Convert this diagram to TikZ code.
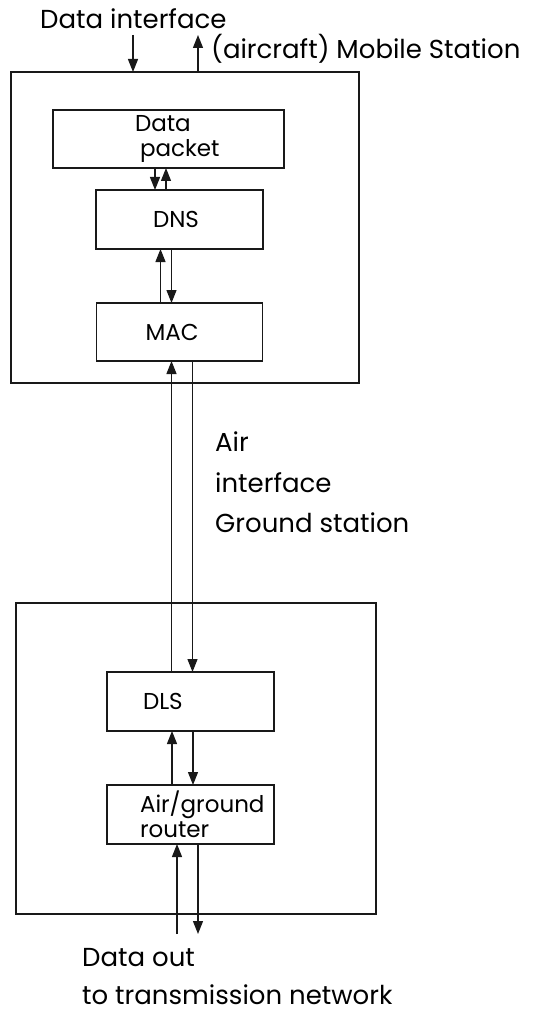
\documentclass[tikz,border=0pt]{standalone}
\usepackage{fontspec}
\setmainfont{Poppins}
\usetikzlibrary{arrows.meta, positioning}

\begin{document}
\begin{tikzpicture}[x=1pt, y=-1pt, font=\fontsize{23}{25}\selectfont,
    station/.style={rectangle, draw=black!90, line width=1.4pt, inner sep=0pt, outer sep=0pt},
    block/.style={rectangle, draw=black!90, line width=1.4pt, inner sep=0pt, outer sep=0pt, minimum height=59pt, text width=167pt, align=left},
    arrow/.style={-{Triangle[length=13pt, width=10pt]}, line width=1.3pt, draw=black!90},
    note/.style={anchor=base west, inner sep=0pt, font=\fontsize{26}{30}\selectfont}]

    \useasboundingbox (0,0) rectangle (537,1016);

    % mobile station (aircraft)
    \node (ms) [station, minimum width=348pt, minimum height=311pt] at (185,227.5) {};
    \node (pkt) [block, text width=231pt, minimum height=58pt] at (168.5,139) {\hspace*{82pt}Data\\\hspace*{87pt}packet};
    \node (dns) [block, below=22pt of pkt, xshift=11pt] {\hspace*{57pt}DNS};
    \node (mac) [block, text width=166pt, minimum height=58pt, below=54pt of dns] {\hspace*{49pt}MAC};

    % ground station
    \node (gs) [station, minimum width=360pt, minimum height=311pt] at (196,758.5) {};
    \node (dls) [block] at (190.5,701.5) {\hspace*{36pt}DLS};
    \node (rtr) [block, below=54pt of dls] {\hspace*{33pt}Air/ground\\\hspace*{33pt}router};

    % labels
    \node (din) [note] at (40,29) {Data interface};
    \node (dms) [note] at (211,59) {(aircraft) Mobile Station};
    \node (air1) [note] at (215,451) {Air};
    \node (air2) [note] at (215,492) {interface};
    \node (air3) [note] at (215,532) {Ground station};
    \node (dout1) [note] at (82,966) {Data out};
    \node (dout2) [note] at (82,1004) {to transmission network};

    \coordinate (inA) at (133,35);
    \coordinate (outA) at (198,35);
    \coordinate (upin) at (177,934);
    \coordinate (downout) at (198,934);

    \draw [arrow] (inA) -- (inA |- ms.north);
    \draw [arrow] (outA |- ms.north) -- (outA);

    \draw [arrow] ([xshift=-24.5pt]dns.north |- pkt.south) -- ([xshift=-24.5pt]dns.north);
    \draw [arrow] ([xshift=-13.5pt]dns.north) -- ([xshift=-13.5pt]dns.north |- pkt.south);

    \draw [arrow] ([xshift=-19pt]mac.north) -- ([xshift=-19pt]mac.north |- dns.south);
    \draw [arrow] ([xshift=-8pt]mac.north |- dns.south) -- ([xshift=-8pt]mac.north);

    \draw [arrow] ([xshift=-8pt]mac.south |- dls.north) -- ([xshift=-8pt]mac.south);
    \draw [arrow] ([xshift=13pt]mac.south) -- ([xshift=13pt]mac.south |- dls.north);

    \draw [arrow] ([xshift=-18.5pt]dls.south |- rtr.north) -- ([xshift=-18.5pt]dls.south);
    \draw [arrow] ([xshift=2.5pt]dls.south) -- ([xshift=2.5pt]rtr.north);

    \draw [arrow] (upin) -- (upin |- rtr.south);
    \draw [arrow] (downout |- rtr.south) -- (downout);

\end{tikzpicture}
\end{document}
